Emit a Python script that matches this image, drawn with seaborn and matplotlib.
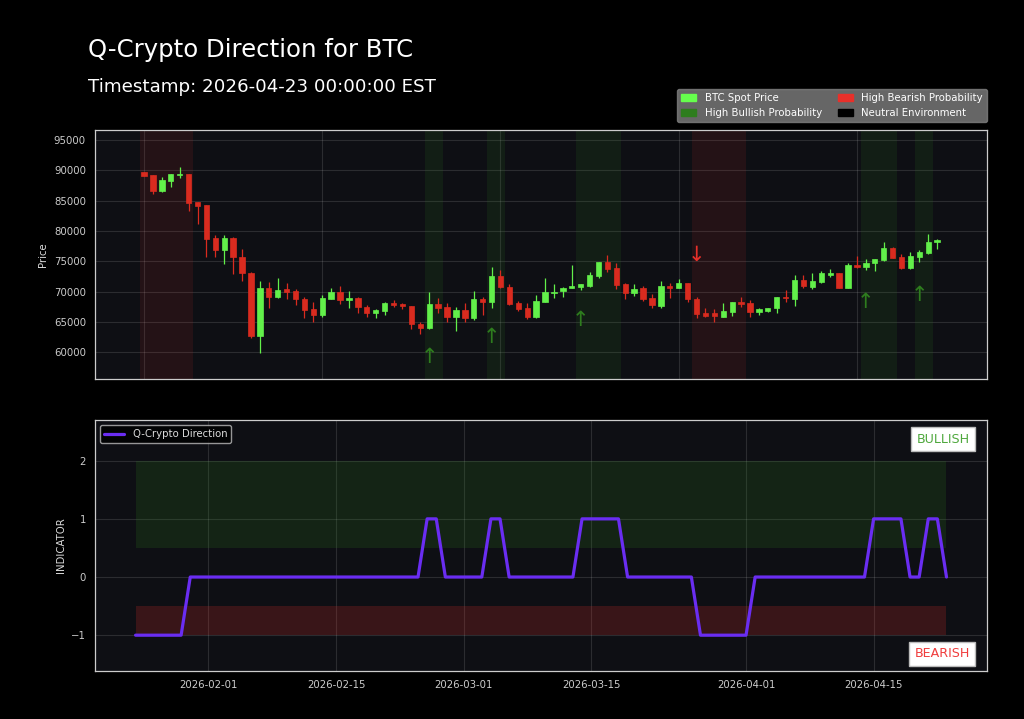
from itertools import groupby
import matplotlib
matplotlib.use('Agg')
import matplotlib.pyplot as plt
import matplotlib.dates as mdates
from matplotlib.patches import Patch
import numpy as np
import pandas as pd
import seaborn as sns

# daily BTC candles, 2026-01-24 .. 2026-04-23
dates = pd.date_range('2026-01-24', '2026-04-23', freq='D')
opens = [89700, 89230, 86540, 88300, 89300, 89340, 84720, 84280, 78790, 76920,
         78790, 75760, 73130, 62740, 70540, 69170, 70400, 70100, 68800, 67130,
         66150, 68800, 69900, 68700, 68900, 67470, 66420, 66860, 68100, 68000,
         67700, 64660, 63950, 67990, 67520, 65760, 66970, 65700, 68800, 68230,
         72630, 70800, 68070, 67250, 65870, 68340, 69720, 70100, 70540, 70810,
         70980, 72630, 74940, 73840, 71200, 69830, 70540, 69000, 67690, 71000,
         70540, 71370, 68780, 66420, 66420, 65870, 66690, 68340, 68070, 66690,
         66860, 67250, 69110, 68780, 71920, 70820, 71640, 72740, 73020, 70650,
         74390, 74060, 74670, 75210, 77140, 75760, 73840, 75760, 76310, 78240]
highs = [89800, 89300, 88840, 89400, 90600, 89400, 84800, 84300, 79340, 79340,
         79060, 76970, 73300, 71810, 71640, 72200, 71370, 70400, 69170, 68320,
         69400, 70600, 70930, 70100, 69170, 67800, 67080, 68350, 68600, 68200,
         67700, 64990, 69990, 68900, 68100, 67520, 68180, 70100, 69170, 74120,
         73570, 71200, 68450, 68070, 69440, 72230, 71260, 70760, 74420, 71260,
         73290, 74940, 76040, 74700, 71370, 71310, 70980, 69550, 71800, 71370,
         72030, 71370, 69170, 67360, 67080, 68070, 68340, 69170, 68620, 67250,
         67360, 69170, 70270, 72740, 72740, 73130, 73400, 73670, 73020, 74780,
         75870, 75320, 75320, 78240, 77410, 76150, 76480, 76860, 79500, 78680]
lows = [89000, 86040, 86500, 87300, 88790, 83350, 81100, 75650, 75650, 74500,
        72910, 71830, 62410, 59880, 67360, 68900, 68820, 67800, 65710, 65050,
        65800, 68800, 67900, 67360, 66500, 65870, 65600, 66200, 67500, 67200,
        63840, 62940, 63900, 66420, 64940, 63430, 65050, 65320, 66140, 67360,
        70540, 67800, 66800, 65490, 65600, 68340, 69000, 69170, 70540, 70320,
        70810, 72300, 73290, 70430, 68780, 69330, 68500, 67360, 67360, 68900,
        70540, 68230, 65600, 65800, 65050, 65760, 66030, 67520, 65760, 66140,
        66690, 66530, 68340, 67630, 70650, 70430, 71370, 72470, 70540, 70650,
        73840, 73570, 73400, 75050, 75490, 73730, 73730, 74830, 76150, 76970]
closes = [89100, 86590, 88350, 89340, 89450, 84610, 84120, 78680, 76920, 78790,
          75650, 73130, 62740, 70540, 69170, 70320, 70000, 68800, 66970, 66150,
          68890, 69900, 68700, 69000, 67410, 66420, 66970, 68100, 67800, 67600,
          64610, 64000, 67990, 67360, 65760, 66970, 65600, 68800, 68230, 72630,
          70710, 67900, 67140, 65870, 68450, 70000, 70000, 70650, 70980, 71260,
          72740, 74940, 73730, 71100, 69830, 70490, 68780, 67800, 70980, 70600,
          71370, 68730, 66250, 66030, 65920, 66860, 68340, 67900, 66690, 67080,
          67360, 69060, 68900, 71920, 70930, 71810, 73020, 73020, 70650, 74390,
          74060, 74780, 75320, 77140, 75600, 73840, 75870, 76590, 78240, 78460]
# Q-Crypto Direction: 1 bullish, 0 neutral, -1 bearish
signal = [-1, -1, -1, -1, -1, -1, 0, 0, 0, 0, 0, 0, 0, 0, 0, 0, 0, 0, 0, 0,
          0, 0, 0, 0, 0, 0, 0, 0, 0, 0, 0, 0, 1, 1, 0, 0, 0, 0, 0, 1,
          1, 0, 0, 0, 0, 0, 0, 0, 0, 1, 1, 1, 1, 1, 0, 0, 0, 0, 0, 0,
          0, 0, -1, -1, -1, -1, -1, -1, 0, 0, 0, 0, 0, 0, 0, 0, 0, 0, 0, 0,
          0, 1, 1, 1, 1, 0, 0, 1, 1, 0]

s = 0.73  # font scale
UP = '#62f04a'
DOWN = '#d92b1f'
BULL = '#2e7d1e'
BEAR = '#e8302a'
LINE = '#6a2df2'
PANEL = '#0e0f14'

sns.set_theme(style='dark', rc={
    'figure.facecolor': 'black',
    'axes.facecolor': PANEL,
    'axes.edgecolor': '#cccccc',
    'axes.labelcolor': '#dddddd',
    'xtick.color': '#cccccc',
    'ytick.color': '#cccccc',
    'text.color': 'white',
    'grid.color': '#ffffff',
    'axes.grid': True,
})
plt.rcParams['font.family'] = ['DejaVu Sans']

fig = plt.figure(figsize=(10.24, 7.19), dpi=100)
ax1 = fig.add_axes([0.0928, 0.4729, 0.8711, 0.3463])
ax2 = fig.add_axes([0.0928, 0.0672, 0.8711, 0.3487])

df = pd.DataFrame({'date': dates, 'open': opens, 'high': highs, 'low': lows,
                   'close': closes, 'signal': signal})
x = np.arange(len(df))
rising = df['close'] >= df['open']
cols = np.where(rising, UP, DOWN)

# ---- top: candles
for key, grp in groupby(enumerate(signal), key=lambda t: t[1]):
    idx = [g[0] for g in grp]
    if key == 1:
        ax1.axvspan(idx[0] - 0.5, idx[-1] + 0.5, color=BULL, alpha=0.14, lw=0)
    elif key == -1:
        ax1.axvspan(idx[0] - 0.5, idx[-1] + 0.5, color=BEAR, alpha=0.1, lw=0)

ax1.vlines(x, df['low'], df['high'], colors=cols, linewidth=0.9, zorder=2)
body_lo = np.minimum(df['open'], df['close'])
body_h = np.maximum(np.abs(df['close'] - df['open']), 150)
ax1.bar(x, body_h, bottom=body_lo, width=0.6, color=cols, edgecolor=cols,
        linewidth=0.5, zorder=3)

# arrows where the signal turns bullish / bearish
prev = 0
for i, sig in enumerate(signal):
    if sig != prev and sig != 0 and i > 0:
        if sig == 1:
            ax1.text(i, df['low'][i] * 0.928, '\u2191', color=BULL, fontsize=15,
                     ha='center', va='center', zorder=4)
        else:
            ax1.text(i, df['high'][i] * 1.10, '\u2193', color=BEAR, fontsize=15,
                     ha='center', va='center', zorder=4)
    prev = sig

ax1.set_xlim(-5.5, 94.6)
ax1.set_ylim(55600, 96650)
ax1.set_xticks(range(0, len(df), 20))
ax1.set_yticks(range(60000, 95001, 5000))
ax1.tick_params(axis='x', length=0, labelbottom=False)
ax1.tick_params(axis='y', labelsize=10 * s, length=3, width=0.6)
ax1.set_ylabel('Price', fontsize=10 * s)
ax1.grid(True, color='white', alpha=0.12, linewidth=0.8)
for sp in ax1.spines.values():
    sp.set_color('#cccccc')
    sp.set_linewidth(0.9)

handles = [Patch(color='#66ff4d', label='BTC Spot Price'),
           Patch(color=BULL, label='High Bullish Probability'),
           Patch(color=BEAR, label='High Bearish Probability'),
           Patch(color='black', label='Neutral Environment')]
leg = ax1.legend(handles=handles, ncol=2, loc='lower right', bbox_to_anchor=(1.0, 1.032),
                 borderaxespad=0, fontsize=10 * s, facecolor='gray', edgecolor='gray',
                 framealpha=0.8, handlelength=1.5, columnspacing=1.6)
for t in leg.get_texts():
    t.set_color('white')

# ---- bottom: indicator
ax2.fill_between(df['date'], 0.5, 2, color=BULL, alpha=0.2, lw=0)
ax2.fill_between(df['date'], -1, -0.5, color=BEAR, alpha=0.2, lw=0)
sns.lineplot(data=df, x='date', y='signal', ax=ax2, color=LINE, linewidth=2.3,
             label='Q-Crypto Direction')
ax2.set_ylim(-1.61, 2.70)
ax2.set_yticks([-1, 0, 1, 2])
ax2.set_yticklabels(['\u22121', '0', '1', '2'])
ax2.xaxis.set_major_locator(mdates.DayLocator(bymonthday=[1, 15]))
ax2.xaxis.set_major_formatter(mdates.DateFormatter('%Y-%m-%d'))
ax2.tick_params(labelsize=10 * s, length=3, width=0.6)
ax2.set_xlabel('')
ax2.set_ylabel('INDICATOR', fontsize=10 * s)
ax2.grid(True, color='white', alpha=0.12, linewidth=0.8)
for sp in ax2.spines.values():
    sp.set_color('#cccccc')
    sp.set_linewidth(0.9)
leg2 = ax2.legend(loc='upper left', fontsize=10 * s, facecolor='black',
                  edgecolor='#bbbbbb', framealpha=0.8)
for t in leg2.get_texts():
    t.set_color('#dddddd')

ax2.text(0.951, 0.924, 'BULLISH', transform=ax2.transAxes, fontsize=12.5 * s,
         color='#4fa83d', ha='center', va='center',
         bbox=dict(facecolor='white', edgecolor='#bbbbbb', boxstyle='square,pad=0.42'))
ax2.text(0.950, 0.067, 'BEARISH', transform=ax2.transAxes, fontsize=12.5 * s,
         color='#f03c3c', ha='center', va='center',
         bbox=dict(facecolor='white', edgecolor='#bbbbbb', boxstyle='square,pad=0.42'))

fig.text(0.086, 0.921, 'Q-Crypto Direction for BTC', fontsize=24 * s, color='white',
         va='baseline')
fig.text(0.086, 0.8725, 'Timestamp: 2026-04-23 00:00:00 EST', fontsize=18 * s,
         color='white', va='baseline')

fig.savefig('out.png', dpi=100, facecolor='black')
